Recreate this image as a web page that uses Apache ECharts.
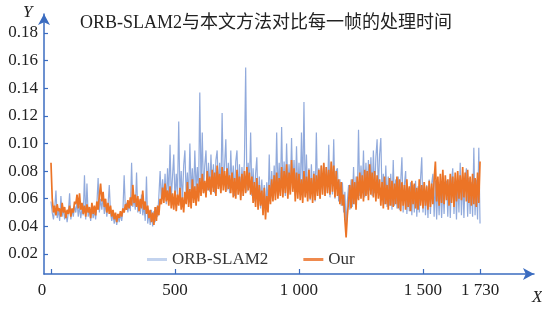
<!DOCTYPE html>
<html>
<head>
<meta charset="utf-8">
<script src="https://cdn.jsdelivr.net/npm/echarts@6/dist/echarts.min.js"></script>
<style>html,body{margin:0;padding:0;background:#fff;}#c{width:542px;height:310px;}</style>
</head>
<body>
<div id="c"></div>
<script>
// frame step between stored samples
const frameStep = 5;
// processing time per frame (ms), ORB-SLAM2
const orbSlam2Ms = [
58,50,45,53,66,46,52,44,62,47,53,45,51,43,50,64,45,52,47,55,
50,58,47,55,46,53,48,77,45,71,47,53,44,54,46,52,45,56,75,50,
60,52,62,49,57,47,55,70,50,44,49,42,48,41,47,43,49,44,51,77,
52,57,50,58,51,86,54,60,52,79,50,59,49,63,48,55,44,76,42,50,
41,52,40,51,43,54,47,62,80,58,74,60,78,56,82,62,99,60,76,92,
58,78,62,116,60,80,57,84,95,62,79,60,100,64,82,61,95,66,83,62,
137,66,108,64,84,95,66,86,65,92,68,85,64,88,95,67,86,65,122,70,
84,103,66,86,64,95,68,84,62,87,95,63,85,61,83,66,88,155,65,86,
68,108,62,82,58,78,90,55,76,53,74,52,70,50,72,54,92,58,80,61,
84,62,108,64,86,63,112,66,87,62,100,68,85,64,104,67,88,62,98,65,
86,63,108,64,130,62,92,60,82,59,85,61,80,58,108,62,82,60,84,64,
85,62,83,64,99,61,86,63,103,60,80,82,58,74,55,72,50,65,40,58,
70,52,74,54,83,56,76,60,110,62,84,64,95,61,86,63,88,66,90,62,
95,64,90,103,66,92,104,60,78,56,84,54,76,55,78,52,88,55,74,53,
76,52,72,90,50,70,80,49,68,51,72,48,70,50,73,47,69,50,74,90,
50,72,48,70,46,74,49,71,78,47,73,45,70,48,72,46,69,49,71,73,
47,74,46,72,82,49,75,45,73,50,86,48,76,46,74,82,47,75,49,72,
47,97,48,74,45,97,42
];
// processing time per frame (ms), our method
const ourMs = [
86,60,50,55,48,56,51,53,47,57,50,54,46,52,49,55,47,53,50,58,
56,63,53,64,52,57,49,55,47,56,50,54,46,57,49,55,48,58,52,62,
71,58,65,54,60,50,57,49,55,47,52,45,50,43,49,46,51,47,53,50,
56,52,59,53,61,55,70,57,63,54,62,51,60,53,66,52,58,49,55,46,
52,43,50,41,54,44,55,48,60,56,68,57,71,58,66,55,69,53,64,52,
66,51,63,55,68,52,61,50,65,56,72,54,67,53,74,57,69,55,71,58,
75,62,78,64,73,61,80,66,76,63,81,65,79,62,84,67,78,64,83,66,
80,65,82,67,77,64,79,61,75,60,81,63,76,59,78,62,80,64,83,66,
79,63,76,57,72,54,75,52,70,55,66,48,68,45,62,50,70,56,74,58,
77,59,79,60,75,62,83,61,80,64,85,60,79,63,88,65,82,58,79,60,
78,59,74,57,80,61,76,58,81,60,75,57,78,59,77,62,81,60,84,63,
86,62,83,64,81,63,87,65,84,61,80,62,74,56,72,55,63,45,32,48,
58,70,53,74,56,72,52,76,59,79,60,77,58,81,62,80,59,85,63,79,
61,80,58,77,60,74,55,72,53,76,56,70,52,75,55,73,54,71,56,76,
53,74,51,72,55,70,52,74,54,69,51,73,56,71,53,68,52,74,55,70,
53,72,55,69,52,73,54,71,56,74,87,58,76,55,78,57,81,56,77,59,
74,55,78,57,76,54,79,58,80,60,77,59,83,61,79,58,81,57,76,55,
78,56,75,54,79,57,87
];
const seriesNames = ['ORB-SLAM2', 'Our'];
const titleText = 'ORB-SLAM2与本文方法对比每一帧的处理时间';
const xTickValues = [0, 500, 1000, 1500, 1730];
const xTickLabels = ['0', '500', '1 000', '1 500', '1 730'];
const yTickValues = [0.02, 0.04, 0.06, 0.08, 0.10, 0.12, 0.14, 0.16, 0.18];
const yTickLabels = ['0.02', '0.04', '0.06', '0.08', '0.10', '0.12', '0.14', '0.16', '0.18'];

const toPairs = arr => arr.map((v, i) => [i * frameStep, v / 1000]);
const AX = '#3b6cc0';
const SERIF = "'Liberation Serif','DejaVu Serif','Noto Sans CJK SC',serif";

const chart = echarts.init(document.getElementById('c'), null, {renderer: 'canvas'});
chart.setOption({
  animation: false,
  backgroundColor: '#fff',
  title: {
    text: titleText, left: 80, top: 14, padding: 0,
    textStyle: {fontFamily: SERIF, fontSize: 18, fontWeight: 'normal', color: '#222'}
  },
  legend: {
    left: 142, top: 246, itemGap: 35, itemWidth: 20, itemHeight: 3, icon: 'rect',
    textStyle: {fontFamily: SERIF, fontSize: 17, color: '#333'},
    data: [
      {name: seriesNames[0], itemStyle: {color: '#c3d3ee'}},
      {name: seriesNames[1], itemStyle: {color: '#ef8a4e'}}
    ]
  },
  grid: {left: 44, right: 8, top: 14, bottom: 36, containLabel: false},
  xAxis: {
    type: 'value', min: -28.2, max: 1947.6,
    axisLine: {onZero: false, lineStyle: {color: AX, width: 1.5}, symbol: ['none', 'arrow'], symbolSize: [9, 11]},
    axisTick: {inside: true, length: 5, lineStyle: {color: AX, width: 1.2}, customValues: xTickValues},
    axisLabel: {
      customValues: xTickValues, margin: 8, color: '#222', fontFamily: SERIF, fontSize: 17,
      formatter: v => { const i = xTickValues.indexOf(v); return i === 0 ? '{z|' + xTickLabels[0] + '}' : xTickLabels[i]; },
      rich: {z: {padding: [0, 18, 0, 0], fontFamily: SERIF, fontSize: 17, color: '#222'}}
    },
    splitLine: {show: false}
  },
  yAxis: {
    type: 'value', min: 0.0055, max: 0.19377,
    axisLine: {show: true, onZero: false, lineStyle: {color: AX, width: 1.5}, symbol: ['none', 'arrow'], symbolSize: [9, 11]},
    axisTick: {show: true, inside: true, length: 4, lineStyle: {color: AX, width: 1.2}, customValues: yTickValues},
    axisLabel: {
      customValues: yTickValues, margin: 6, color: '#222', fontFamily: SERIF, fontSize: 17,
      formatter: v => { let best = 0; yTickValues.forEach((t, i) => { if (Math.abs(t - v) < Math.abs(yTickValues[best] - v)) best = i; }); return yTickLabels[best]; }
    },
    splitLine: {show: false}
  },
  graphic: [
    {type: 'text', left: 23, top: 4, style: {text: 'Y', font: 'italic 17px ' + SERIF, fill: '#222'}},
    {type: 'text', left: 532, top: 289, style: {text: 'X', font: 'italic 17px ' + SERIF, fill: '#222'}}
  ],
  series: [
    {
      name: seriesNames[0], type: 'line', data: toPairs(orbSlam2Ms), showSymbol: false,
      lineStyle: {color: 'rgba(35,85,185,0.5)', width: 1.2}, itemStyle: {color: '#c3d3ee'}
    },
    {
      name: seriesNames[1], type: 'line', data: toPairs(ourMs), showSymbol: false,
      lineStyle: {color: '#ec7426', width: 1.7}, itemStyle: {color: '#ef8a4e'}
    }
  ]
});
</script>
</body>
</html>
